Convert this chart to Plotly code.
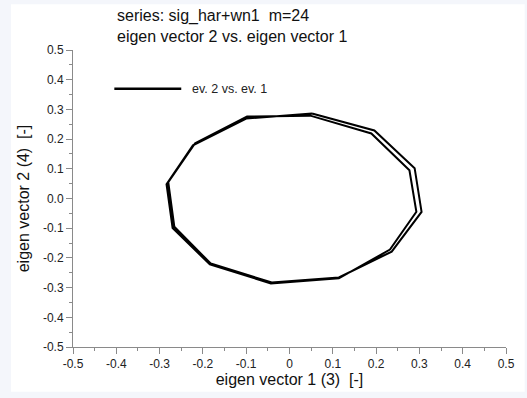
import plotly.graph_objects as go

# Eigen vector components (two passes around the cycle, 12 points each)
ev1 = [0.052, 0.196, 0.289, 0.305, 0.236, 0.114, -0.041, -0.182, -0.266, -0.280, -0.218, -0.098,
       0.048, 0.189, 0.277, 0.293, 0.232, 0.114, -0.043, -0.184, -0.270, -0.284, -0.223, -0.100]
ev2 = [0.286, 0.229, 0.102, -0.045, -0.179, -0.266, -0.283, -0.219, -0.095, 0.055, 0.186, 0.276,
       0.279, 0.219, 0.095, -0.045, -0.172, -0.269, -0.286, -0.222, -0.099, 0.048, 0.179, 0.269]

x_ticks = [-0.5, -0.4, -0.3, -0.2, -0.1, 0.0, 0.1, 0.2, 0.3, 0.4, 0.5]
x_labels = ["-0.5", "-0.4", "-0.3", "-0.2", "-0.1", "0", "0.1", "0.2", "0.3", "0.4", "0.5"]
y_ticks = [-0.5, -0.4, -0.3, -0.2, -0.1, 0.0, 0.1, 0.2, 0.3, 0.4, 0.5]
y_labels = ["-0.5", "-0.4", "-0.3", "-0.2", "-0.1", "0.0", "0.1", "0.2", "0.3", "0.4", "0.5"]

title_lines = ["series: sig_har+wn1&nbsp; m=24", "eigen vector 2 vs. eigen vector 1"]
x_title = "eigen vector 1 (3)&nbsp; [-]"
y_title = "eigen vector 2 (4)&nbsp; [-]"
legend_label = "ev. 2 vs. ev. 1"

FONT = "Liberation Sans, Arial, sans-serif"
AXIS_GRAY = "#8a8a8a"

xs = ev1 + ev1[:1]
ys = ev2 + ev2[:1]

fig = go.Figure()
fig.add_trace(go.Scatter(x=xs, y=ys, mode="lines",
                         line=dict(color="black", width=2),
                         name=legend_label, showlegend=False))

axis_common = dict(
    range=[-0.5, 0.5], showgrid=False, zeroline=False,
    showline=True, linecolor=AXIS_GRAY, linewidth=1,
    ticks="outside", tickcolor=AXIS_GRAY, tickwidth=1, ticklen=6,
    tickfont=dict(family=FONT, size=12, color="#222222"),
    minor=dict(ticks="outside", dtick=0.05, ticklen=3, tickcolor=AXIS_GRAY, showgrid=False),
)

fig.update_xaxes(**axis_common, tickvals=x_ticks, ticktext=x_labels,
                 title=dict(text=x_title,
                            font=dict(family=FONT, size=16, color="#111111"), standoff=3))
fig.update_yaxes(**axis_common, tickvals=y_ticks, ticktext=y_labels,
                 title=dict(text=y_title,
                            font=dict(family=FONT, size=16, color="#111111"), standoff=9))

W, H = 527, 398
L, R, T, B = 73, 14, 50, 49
pw, ph = W - L - R, H - T - B


def px_to_paper(px, py):
    return (px - L) / pw, (H - B - py) / ph


# white panel over the light page background
x0, y0 = px_to_paper(10, 394)
x1, y1 = px_to_paper(W + 5, 4)
shapes = [dict(type="rect", xref="paper", yref="paper", x0=x0, x1=x1, y0=y0, y1=y1,
               fillcolor="white", line=dict(width=0), layer="below")]

# legend sample line
lx0, ly = px_to_paper(115, 89)
lx1, _ = px_to_paper(183, 89)
shapes.append(dict(type="line", xref="paper", yref="paper", x0=lx0, x1=lx1, y0=ly, y1=ly,
                   line=dict(color="black", width=2.5)))

tx, _ = px_to_paper(192, 89)
annotations = [dict(text=legend_label, xref="paper", yref="paper", x=tx, y=ly,
                    xanchor="left", yanchor="middle", showarrow=False,
                    font=dict(family=FONT, size=12.5, color="#222222"))]

hx, hy = px_to_paper(116, 5)
annotations.append(dict(text="<br>".join(title_lines), xref="paper", yref="paper",
                        x=hx, y=hy, xanchor="left", yanchor="top", align="left",
                        showarrow=False, font=dict(family=FONT, size=16, color="#111111")))

fig.update_layout(
    width=W, height=H,
    margin=dict(l=L, r=R, t=T, b=B),
    paper_bgcolor="#f4f6fb", plot_bgcolor="white",
    shapes=shapes, annotations=annotations, showlegend=False,
)

fig.write_html("out.html")
